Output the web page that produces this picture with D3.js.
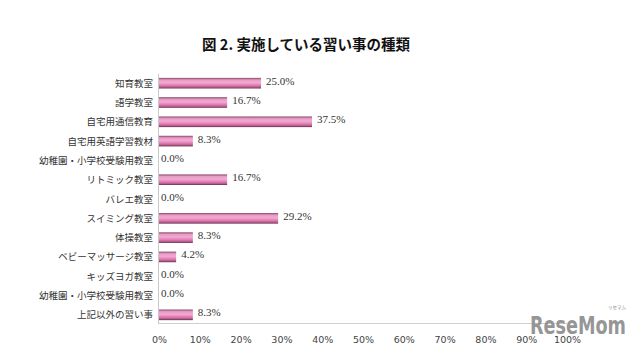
<!DOCTYPE html>
<html><head><meta charset="utf-8">
<script src="https://cdn.jsdelivr.net/npm/d3@7"></script>
<style>body{margin:0;background:#fff}svg{display:block}</style>
</head><body><svg id="c" width="640" height="351"></svg>
<script>
const categories = ["知育教室","語学教室","自宅用通信教育","自宅用英語学習教材","幼稚園・小学校受験用教室","リトミック教室","バレエ教室","スイミング教室","体操教室","ベビーマッサージ教室","キッズヨガ教室","幼稚園・小学校受験用教室","上記以外の習い事"];
const values = [25.0,16.7,37.5,8.3,0.0,16.7,0.0,29.2,8.3,4.2,0.0,0.0,8.3];
const ticks = [0,10,20,30,40,50,60,70,80,90,100];
const title = "図 2.  実施している習い事の種類";

const svg = d3.select("#c");
const W=640,H=351;
svg.append("rect").attr("width",W).attr("height",H).attr("fill","#fff");

const defs = svg.append("defs");
const g = defs.append("linearGradient").attr("id","bar").attr("x1",0).attr("y1",0).attr("x2",0).attr("y2",1);
[[0,"#8a4a6c"],[0.2,"#e69cc4"],[0.45,"#f3a9d1"],[0.7,"#e07db4"],[0.88,"#b45a8a"],[1,"#5e2a45"]].forEach(s=>g.append("stop").attr("offset",s[0]).attr("stop-color",s[1]));

const x = d3.scaleLinear().domain([0,100]).range([159,567]);
const y = d3.scaleBand().domain(d3.range(categories.length)).range([74,324]).paddingInner(0.45).paddingOuter(0.2);

svg.append("text").attr("x",306).attr("y",50).attr("text-anchor","middle")
  .attr("font-family","'Noto Sans CJK JP'").attr("font-size",14.5).attr("font-weight",700).attr("fill","#111").text(title);

// axes lines
svg.append("line").attr("x1",x(0)-0.5).attr("x2",x(0)-0.5).attr("y1",74).attr("y2",324).attr("stroke","#c8c8c8");
svg.append("line").attr("x1",x(0)-0.5).attr("x2",x(100)).attr("y1",323.5).attr("y2",323.5).attr("stroke","#d0d0d0");

const ax = d3.axisBottom(x).tickValues(ticks).tickFormat(d=>d+"%").tickSize(0).tickPadding(12);
const axg = svg.append("g").attr("transform","translate(0,324)").call(ax);
axg.select(".domain").remove();
axg.selectAll("text").attr("font-family","'DejaVu Sans'").attr("font-size",9.5).attr("fill","#444");

// bars
svg.selectAll("rect.b").data(values).join("rect").attr("class","b")
  .attr("x",x(0)).attr("y",(d,i)=>y(i)).attr("height",y.bandwidth())
  .attr("width",d=>x(d)-x(0)).attr("fill","url(#bar)");

// value labels
svg.selectAll("text.v").data(values).join("text").attr("class","v")
  .attr("x",d=>x(d)+ (d>0?5:2)).attr("y",(d,i)=>y(i)+y.bandwidth()/2-1)
  .attr("dominant-baseline","middle")
  .attr("font-family","'Liberation Serif'").attr("font-size",11).attr("fill","#333")
  .text(d=>d.toFixed(1)+"%");

// category labels
svg.selectAll("text.c").data(categories).join("text").attr("class","c")
  .attr("x",153).attr("y",(d,i)=>y(i)+y.bandwidth()/2+1)
  .attr("text-anchor","end").attr("dominant-baseline","middle")
  .attr("font-family","'Noto Sans CJK JP'").attr("font-size",9.5).attr("fill","#333")
  .text(d=>d);

// watermark
svg.append("text").attr("x",530).attr("y",334).attr("font-family","'DejaVu Sans'").attr("font-weight","bold")
  .attr("font-size",20).attr("fill","#888").attr("fill-opacity",0.9)
  .attr("transform","translate(530,334) scale(1,1.2) translate(-530,-334)")
  .attr("textLength",96).attr("lengthAdjust","spacingAndGlyphs").text("ReseMom");
svg.append("text").attr("x",608).attr("y",309).attr("font-family","'Noto Sans CJK JP'")
  .attr("font-size",4.5).attr("fill","#888").text("リセマム");
</script></body></html>
